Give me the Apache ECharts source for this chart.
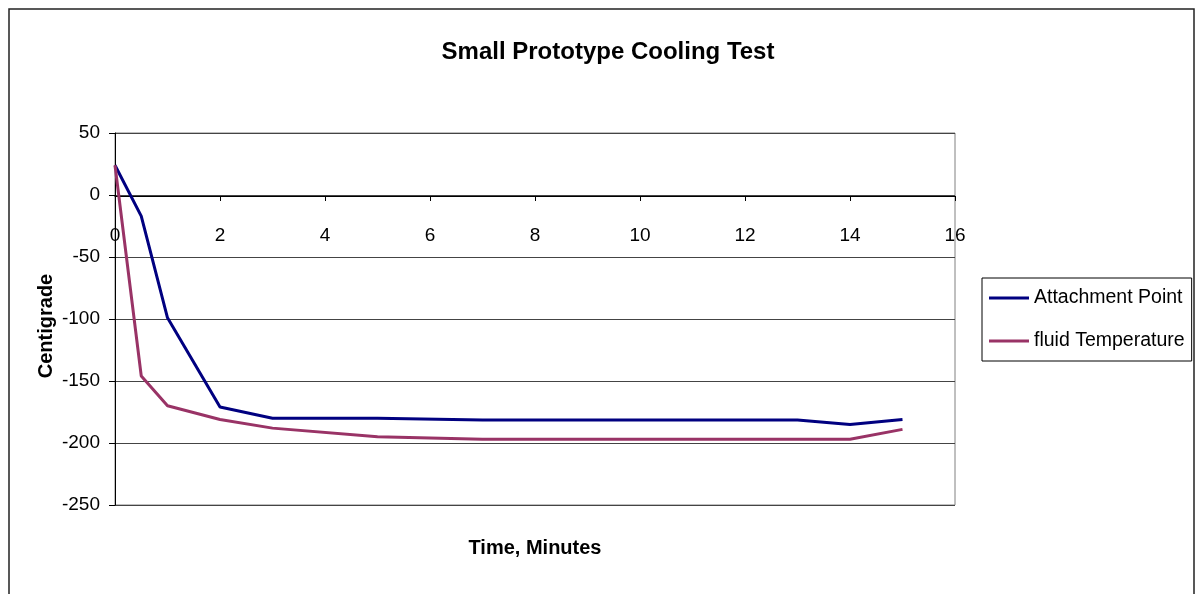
<!DOCTYPE html>
<html>
<head>
<meta charset="utf-8">
<script src="https://cdn.jsdelivr.net/npm/echarts@6/dist/echarts.min.js"></script>
<style>html,body{margin:0;padding:0;background:#fff;}#c{width:1199px;height:594px;}</style>
</head>
<body>
<div id="c"></div>
<script>
var timeMinutes = [0, 0.5, 1, 2, 3, 5, 7, 13, 14, 15];
var attachmentPoint = [24, -17, -99, -171, -180, -180, -181.5, -181.5, -185, -181];
var fluidTemperature = [24, -146, -170, -181, -188, -195, -197, -197, -197, -189];
var seriesNames = ['Attachment Point', 'fluid Temperature'];

function pairs(xs, ys) { return xs.map(function (x, i) { return [x, ys[i]]; }); }

var font = "'Liberation Sans', Arial, sans-serif";
var chart = echarts.init(document.getElementById('c'), null, { renderer: 'canvas' });
chart.setOption({
  animation: false,
  backgroundColor: '#fff',
  title: {
    text: 'Small Prototype Cooling Test',
    left: 603, textAlign: 'center', top: 35,
    textStyle: { fontFamily: font, fontSize: 24, fontWeight: 'bold', color: '#000' }
  },
  graphic: [{
    type: 'rect', shape: { x: 9, y: 9, width: 1185, height: 600 },
    style: { fill: 'none', stroke: '#222', lineWidth: 1.5 }, z: -1
  }],
  legend: {
    orient: 'vertical', left: 982, top: 278,
    itemWidth: 40, itemHeight: 3, itemGap: 23,
    padding: [10, 7, 10, 7],
    borderColor: '#000', borderWidth: 1,
    icon: 'rect',
    textStyle: { fontFamily: font, fontSize: 19.5, color: '#000' },
    data: seriesNames
  },
  grid: { left: 115, right: 244, top: 133, bottom: 89, show: true, borderColor: '#808080', borderWidth: 1,
          containLabel: false, outerBoundsMode: 'none' },
  xAxis: {
    type: 'value', min: 0, max: 16, interval: 2,
    offset: -309,
    name: 'Time, Minutes', nameLocation: 'middle', nameGap: 342, nameMoveOverlap: false,
    nameTextStyle: { fontFamily: font, fontSize: 20, fontWeight: 'bold', color: '#000' },
    axisLine: { onZero: false, lineStyle: { color: '#000', width: 1 } },
    axisTick: { show: true, inside: false, length: 5, lineStyle: { color: '#000' } },
    axisLabel: { fontFamily: font, fontSize: 19, color: '#000', margin: 30 },
    splitLine: { show: false }
  },
  yAxis: {
    type: 'value', min: -250, max: 50, interval: 50,
    name: 'Centigrade', nameLocation: 'middle', nameGap: 59, nameMoveOverlap: false,
    nameTextStyle: { fontFamily: font, fontSize: 20, fontWeight: 'bold', color: '#000', padding: [0, 14, 0, 0] },
    axisLine: { show: true, lineStyle: { color: '#000', width: 1 } },
    axisTick: { show: true, length: 6, lineStyle: { color: '#000' } },
    axisLabel: { fontFamily: font, fontSize: 19, color: '#000', margin: 15, showMinLabel: true, showMaxLabel: true },
    splitLine: { show: true, lineStyle: { color: '#444', width: 1 } }
  },
  series: [
    { name: seriesNames[0], type: 'line', data: pairs(timeMinutes, attachmentPoint), showSymbol: false, symbol: 'none',
      lineStyle: { color: '#000080', width: 3 }, itemStyle: { color: '#000080' } },
    { name: seriesNames[1], type: 'line', data: pairs(timeMinutes, fluidTemperature), showSymbol: false, symbol: 'none',
      lineStyle: { color: '#993366', width: 3 }, itemStyle: { color: '#993366' } }
  ]
});
</script>
</body>
</html>
